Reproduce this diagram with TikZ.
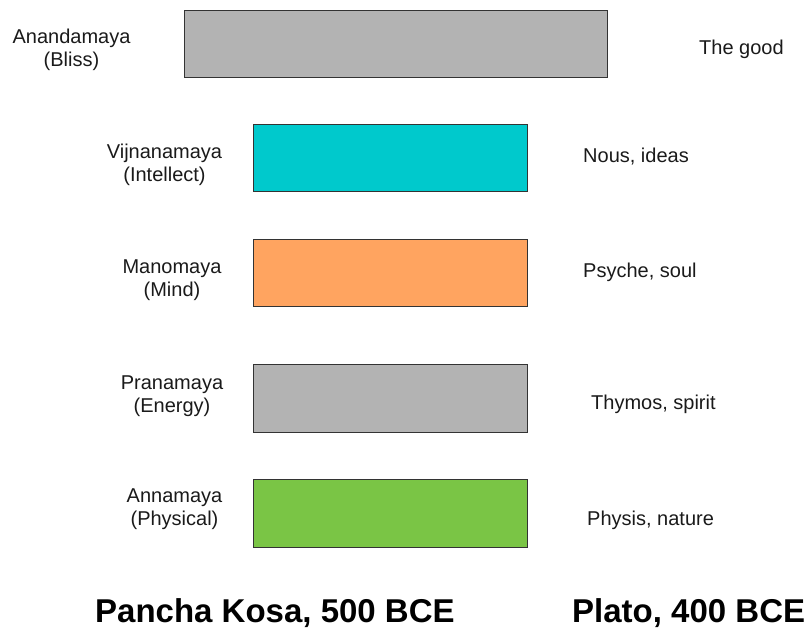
\documentclass[tikz,border=0pt]{standalone}
\usepackage{fontspec}
\setmainfont{Liberation Sans}
\definecolor{boxgray}{HTML}{B3B3B3}
\definecolor{boxcyan}{HTML}{00C9CC}
\definecolor{boxorange}{HTML}{FFA460}
\definecolor{boxgreen}{HTML}{7AC545}
\definecolor{edge}{HTML}{333333}
\definecolor{txt}{HTML}{1A1A1A}
\begin{document}
\begin{tikzpicture}[x=1pt,y=-1pt,
  kosha/.style={draw=edge,line width=1pt},
  lbl/.style={inner sep=0pt,align=center,text=txt,font=\fontsize{20}{23}\selectfont},
  rlbl/.style={inner sep=0pt,anchor=base west,text=txt,font=\fontsize{20}{23}\selectfont},
  title/.style={inner sep=0pt,anchor=base west,font=\bfseries\fontsize{33}{38}\selectfont}]
\useasboundingbox (0,0) rectangle (810,633);
% boxes
\draw[kosha,fill=boxgray]   (184,10)  rectangle (607,77)  coordinate (b1);
\draw[kosha,fill=boxcyan]   (253,124) rectangle (527,191) coordinate (b2);
\draw[kosha,fill=boxorange] (253,239) rectangle (527,306) coordinate (b3);
\draw[kosha,fill=boxgray]   (253,364) rectangle (527,432) coordinate (b4);
\draw[kosha,fill=boxgreen]  (253,479) rectangle (527,547) coordinate (b5);
% left labels
\node[lbl] (l1) at (71.5,50)  {Anandamaya\\(Bliss)};
\node[lbl] (l2) at (164.5,165) {Vijnanamaya\\(Intellect)};
\node[lbl] (l3) at (172,280)  {Manomaya\\(Mind)};
\node[lbl] (l4) at (172,396)  {Pranamaya\\(Energy)};
\node[lbl] (l5) at (174.5,509) {Annamaya\\(Physical)};
% right labels
\node[rlbl] (r1) at (699,54)  {The good};
\node[rlbl] (r2) at (583,162) {Nous, ideas};
\node[rlbl] (r3) at (583,277) {Psyche, soul};
\node[rlbl] (r4) at (591,409) {Thymos, spirit};
\node[rlbl] (r5) at (587,525) {Physis, nature};
% titles
\node[title] (t1) at (95,622)  {Pancha Kosa, 500 BCE};
\node[title] (t2) at (572,622) {Plato, 400 BCE};
\end{tikzpicture}
\end{document}
